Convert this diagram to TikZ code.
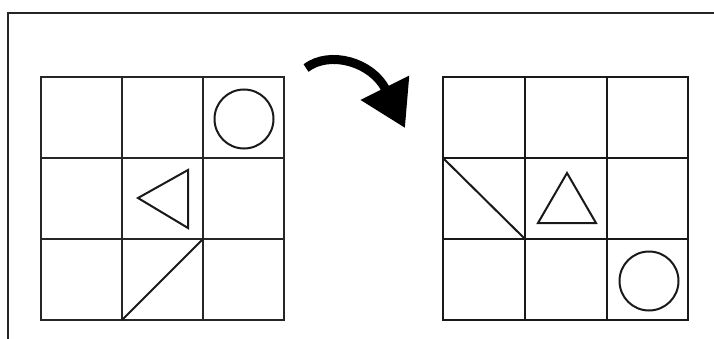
\documentclass[tikz,border=0pt]{standalone}
\usetikzlibrary{arrows.meta}

\begin{document}
\begin{tikzpicture}[
  x=1pt, y=-1pt,
  frame/.style={draw=black!85, line width=1.2pt},
  thingrid/.style={draw=black!85, line width=1.1pt},
  thickgrid/.style={draw=black!90, line width=2.4pt},
  piece/.style={draw=black!90, line width=2pt, line join=miter},
  turn/.style={-{Triangle[length=45pt, width=52pt]}, draw=black, line width=9pt}
]
\useasboundingbox (0,0) rectangle (714,339);

% Page frame.
\draw[frame] (714,13) -- (8,13) -- (8,339);

% Left board.
\draw[thingrid] (41,77) rectangle (284,320);
\draw[thingrid] (122,77) -- (122,320);
\draw[thingrid] (203,77) -- (203,320);
\draw[thingrid] (41,158) -- (284,158);
\draw[thingrid] (41,239) -- (284,239);
\draw[piece] (244,119) circle (29.5);
\draw[piece] (138,198) -- (188,170) -- (188,228) -- cycle;
\draw[piece] (122,320) -- (203,239);

% Right board.
\draw[thickgrid] (443,77) rectangle (688,320);
\draw[thickgrid] (525,77) -- (525,320);
\draw[thickgrid] (607,77) -- (607,320);
\draw[thickgrid] (443,158) -- (688,158);
\draw[thickgrid] (443,239) -- (688,239);
\draw[piece] (649,281) circle (29.5);
\draw[piece] (567,173) -- (596,223) -- (538,223) -- cycle;
\draw[piece] (443,158) -- (525,239);

% Turn arrow.
\coordinate (from) at (306,68);
\coordinate (to) at (405,128);
\draw[turn] (from) .. controls (330,50) and (372,62) .. (to);

\end{tikzpicture}
\end{document}
